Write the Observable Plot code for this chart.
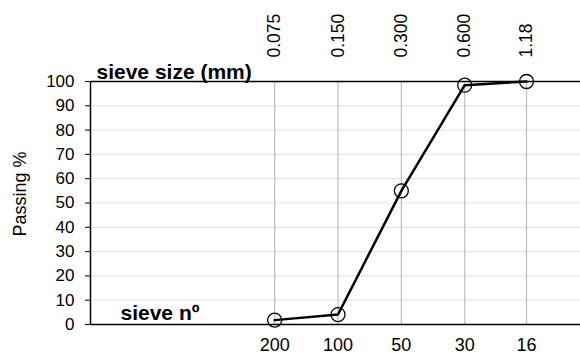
<!DOCTYPE html>
<html><head><meta charset="utf-8">
<script src="https://cdn.jsdelivr.net/npm/d3@7"></script>
<script src="https://cdn.jsdelivr.net/npm/@observablehq/plot@0.6"></script>
<style>body{margin:0;background:#fff;font-family:"Liberation Sans",Arial,sans-serif}</style>
</head><body><div id="chart"></div>
<script>
const sizesMm = [0.075, 0.15, 0.3, 0.6, 1.18];
const sizeLabels = ["0.075", "0.150", "0.300", "0.600", "1.18"];
const sieveNumbers = ["200", "100", "50", "30", "16"];
const passing = [1.8, 4.1, 55, 98.5, 100];
const yTicks = [0, 10, 20, 30, 40, 50, 60, 70, 80, 90, 100];

const data = sizesMm.map((s, i) => ({size: s, label: sizeLabels[i], no: sieveNumbers[i], pass: passing[i]}));
const font = "Liberation Sans, Arial, sans-serif";

const chart = Plot.plot({
  width: 580, height: 354,
  marginLeft: 90, marginRight: 0, marginTop: 81, marginBottom: 30,
  style: {fontFamily: font, background: "#fff", overflow: "visible"},
  x: {type: "log", domain: [0.01, 2.13], axis: null},
  y: {domain: [0, 100], axis: null},
  marks: [
    Plot.ruleY(yTicks.filter(d => d > 0 && d < 100), {stroke: "#e6e6e6", strokeWidth: 1.2}),
    Plot.ruleX(data, {x: "size", y1: 0, y2: 100, stroke: "#bdbdbd", strokeWidth: 1.2}),
    Plot.axisY(yTicks, {ticks: yTicks, tickSize: 5, tickPadding: 11, fontSize: 17, stroke: "#000", fill: "#000", label: null}),
    Plot.ruleY([0, 100], {stroke: "#000", strokeWidth: 1.5}),
    Plot.ruleX([0.01], {y1: 0, y2: 100, stroke: "#000", strokeWidth: 1.5}),
    Plot.line(data, {x: "size", y: "pass", stroke: "#000", strokeWidth: 2.5}),
    Plot.dot(data, {x: "size", y: "pass", r: 7, stroke: "#000", strokeWidth: 1.3, fill: "none"}),
    Plot.text(data, {x: "size", y: 100, text: "label", rotate: -90, textAnchor: "start", lineAnchor: "middle", dy: -24, fontSize: 17.5, fill: "#000"}),
    Plot.text(data, {x: "size", y: 0, text: "no", lineAnchor: "middle", dy: 20.5, fontSize: 18, fill: "#000"}),
    Plot.text(["sieve size (mm)"], {frameAnchor: "top-left", textAnchor: "start", lineAnchor: "bottom", dx: 6, dy: -3, fontSize: 21, fontWeight: "bold", fill: "#000"}),
    Plot.text(["sieve nº"], {frameAnchor: "bottom-left", textAnchor: "start", lineAnchor: "bottom", dx: 30, dy: -5, fontSize: 21, fontWeight: "bold", fill: "#000"}),
    Plot.text(["Passing %"], {frameAnchor: "left", rotate: -90, textAnchor: "middle", lineAnchor: "middle", dx: -70, dy: -9, fontSize: 18, fill: "#000"})
  ]
});
document.getElementById("chart").appendChild(chart);
</script></body></html>
